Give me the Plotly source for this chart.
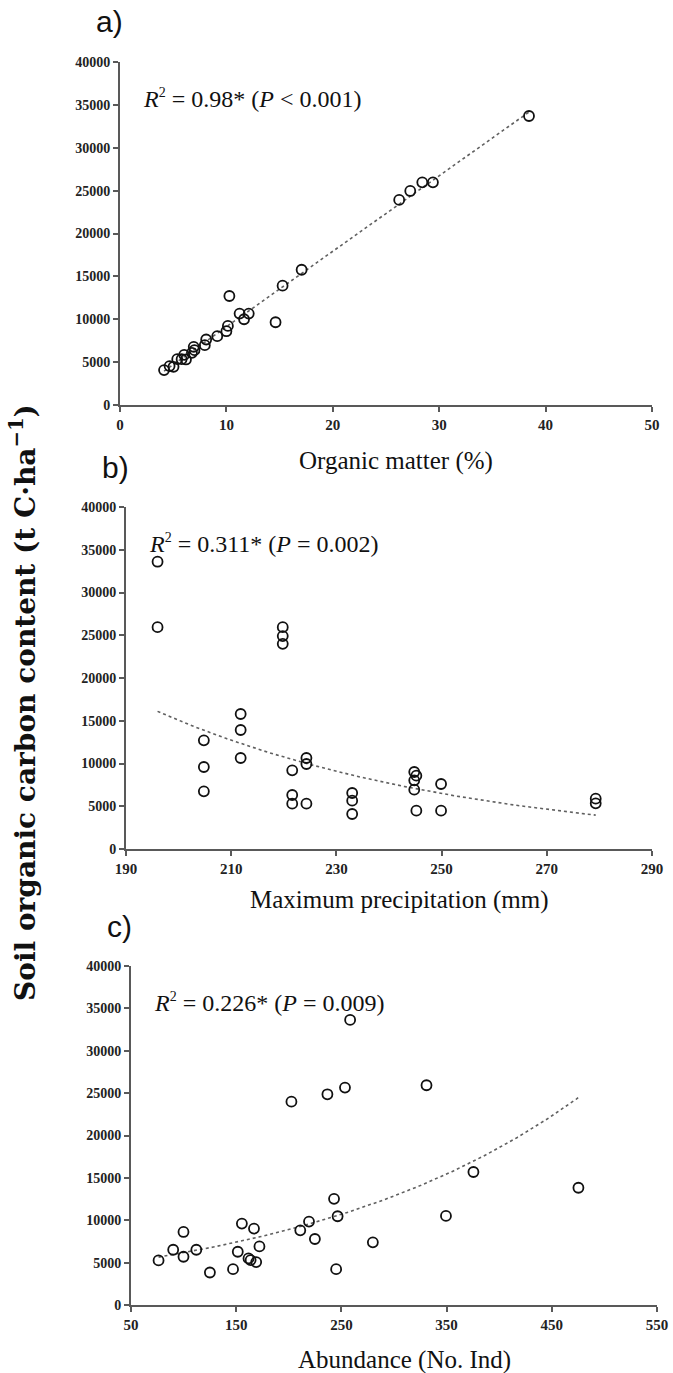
import numpy as np
import plotly.graph_objects as go

W, H = 673, 1373

# ---------------- data ----------------
om_x = [4.14, 4.66, 5.03, 5.38, 5.79, 6.03, 6.2, 6.76, 6.93, 7.0, 7.97, 8.1, 9.14, 10.0,
        10.14, 10.28, 11.24, 11.66, 12.1, 14.62, 15.28, 17.07, 26.24, 27.28, 28.41, 29.41, 38.44]
om_y = [4070, 4535, 4457, 5349, 5349, 5853, 5310, 6085, 6783, 6395, 6977, 7636, 8023, 8605,
        9225, 12713, 10659, 10000, 10659, 9651, 13915, 15775, 23915, 24961, 25969, 25969, 33700]

pr_x = [196, 196, 204.8, 204.8, 204.8, 211.8, 211.8, 211.8, 219.8, 219.8, 219.8,
        221.6, 221.6, 221.6, 224.3, 224.3, 224.3, 233.0, 233.0, 233.0,
        244.8, 245.2, 244.8, 244.8, 245.2, 249.9, 249.9, 279.3, 279.3]
pr_y = [33600, 25950, 6745, 9590, 12710, 10643, 13918, 15789, 25950, 24900, 24000,
        9200, 6316, 5302, 10643, 9942, 5302, 6550, 5653, 4094,
        9006, 8577, 8031, 6940, 4483, 7602, 4483, 5887, 5341]

ab_x = [76.2, 90.1, 99.9, 99.9, 112.1, 125.0, 147.0, 151.5, 155.4, 161.7, 163.7, 166.9,
        169.0, 172.1, 202.5, 210.9, 219.2, 224.8, 236.7, 243.0, 245.0, 246.4, 253.4,
        258.3, 279.9, 330.9, 349.4, 375.5, 475.3]
ab_y = [5257, 6522, 5692, 8617, 6522, 3834, 4229, 6285, 9605, 5494, 5296, 9012,
        5059, 6917, 23992, 8814, 9842, 7787, 24862, 12530, 4229, 10474, 25652,
        33636, 7391, 25929, 10514, 15692, 13834]

panel_letters = ["a)", "b)", "c)"]
x_titles = ["Organic matter (%)", "Maximum precipitation (mm)", "Abundance (No. Ind)"]
SUP2 = "<sup><span style='font-size:14px'>2</span></sup>"
stats = ["<i>R</i>" + SUP2 + " = 0.98* (<i>P</i> &lt; 0.001)",
         "<i>R</i>" + SUP2 + " = 0.311* (<i>P</i> = 0.002)",
         "<i>R</i>" + SUP2 + " = 0.226* (<i>P</i> = 0.009)"]
x_ranges = [[0, 50], [190, 290], [50, 550]]
x_ticks = [[0, 10, 20, 30, 40, 50], [190, 210, 230, 250, 270, 290], [50, 150, 250, 350, 450, 550]]
y_ticks = [0, 5000, 10000, 15000, 20000, 25000, 30000, 35000, 40000]
fit_kind = ["linear", "exp", "exp"]
y_title = "Soil organic carbon content (t C·ha<sup>−1</sup>)"

# ---------------- layout geometry (pixels) ----------------
boxes = [  # left, right, top, bottom
    (120, 652, 62, 405),
    (126, 652, 507, 849),
    (131, 657, 966, 1305),
]
title_gap = [56, 51, 55]

def fx(px):
    return px / W

def fy(py):
    return 1 - py / H

AX = "#595959"
SERIF = "Liberation Serif"

fig = go.Figure()
datasets = [(om_x, om_y), (pr_x, pr_y), (ab_x, ab_y)]

for i, ((xs, ys), kind) in enumerate(zip(datasets, fit_kind)):
    n = "" if i == 0 else str(i + 1)
    xa, ya = "x" + n, "y" + n
    xs_a = np.array(xs, float)
    ys_a = np.array(ys, float)
    xx = np.linspace(xs_a.min(), xs_a.max(), 200)
    if kind == "linear":
        b1, b0 = np.polyfit(xs_a, ys_a, 1)
        yy = b1 * xx + b0
    else:
        b1, b0 = np.polyfit(xs_a, np.log(ys_a), 1)
        yy = np.exp(b0 + b1 * xx)
    fig.add_trace(go.Scatter(x=xx, y=yy, mode="lines", xaxis=xa, yaxis=ya,
                             line=dict(color="#606060", width=1.6, dash="dot"),
                             showlegend=False, hoverinfo="skip"))
    fig.add_trace(go.Scatter(x=xs, y=ys, mode="markers", xaxis=xa, yaxis=ya,
                             marker=dict(symbol="circle-open", size=10, color="#111111",
                                         line=dict(width=1.8, color="#111111")),
                             showlegend=False))

    l, r, t, b = boxes[i]
    xkey = "xaxis" + n
    ykey = "yaxis" + n
    fig.layout[xkey] = dict(
        domain=[fx(l), fx(r)], anchor=ya, range=x_ranges[i], tickvals=x_ticks[i],
        showgrid=False, zeroline=False, showline=True, linecolor=AX, linewidth=2,
        ticks="outside", ticklen=5, tickwidth=1.5, tickcolor=AX, automargin=False,
        tickfont=dict(family=SERIF, size=15, color="#222", weight="bold"),
    )
    fig.layout[ykey] = dict(
        domain=[fy(b), fy(t)], anchor=xa, range=[0, 40000], tickvals=y_ticks,
        showgrid=False, zeroline=False, showline=True, linecolor=AX, linewidth=2,
        ticks="outside", ticklen=5, tickwidth=1.5, tickcolor=AX, automargin=False,
        tickfont=dict(family=SERIF, size=14, color="#222", weight="bold"), tickformat="d",
    )
    # x title
    fig.add_annotation(text=x_titles[i], xref="paper", yref="paper",
                       x=fx((l + r) / 2 + 10), y=fy(b + title_gap[i]), xanchor="center",
                       yanchor="middle", showarrow=False,
                       font=dict(family=SERIF, size=25, color="#111"))
    # panel letter
    fig.add_annotation(text=panel_letters[i], xref="paper", yref="paper",
                       x=fx(l - 26), y=fy(t - 40), xanchor="left", yanchor="middle",
                       showarrow=False, font=dict(family="Liberation Sans", size=30, color="#111"))
    # statistics
    fig.add_annotation(text=stats[i], xref="paper", yref="paper",
                       x=fx(l + 21), y=fy(t + 36), xanchor="left", yanchor="middle",
                       showarrow=False, font=dict(family=SERIF, size=24, color="#111"))

fig.add_annotation(text=y_title, xref="paper", yref="paper",
                   x=fx(24), y=fy(703), xanchor="center", yanchor="middle", textangle=-90,
                   showarrow=False, font=dict(family="DejaVu Serif", size=28, color="#111",
                                              weight="bold"))

fig.update_layout(width=W, height=H, margin=dict(l=0, r=0, t=0, b=0),
                  paper_bgcolor="white", plot_bgcolor="white")

fig.write_html("out.html")
